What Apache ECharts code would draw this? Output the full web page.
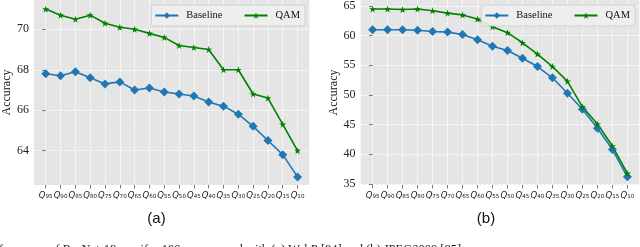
<!DOCTYPE html>
<html>
<head>
<meta charset="utf-8">
<script src="https://cdn.jsdelivr.net/npm/echarts@6/dist/echarts.min.js"></script>
<style>
html,body{margin:0;padding:0;background:#fff;}
#c{width:640px;height:247px;}
</style>
</head>
<body>
<div id="c"></div>
<script>
// Quality levels (x tick labels Q95 ... Q10)
const qualities = ['95','90','85','80','75','70','65','60','55','50','45','40','35','30','25','20','15','10'];
// (a) WebP
const baselineA = [67.8,67.7,67.9,67.6,67.3,67.4,67.0,67.1,66.9,66.8,66.7,66.4,66.2,65.8,65.2,64.5,63.8,62.7];
const qamA      = [71.0,70.7,70.5,70.7,70.3,70.1,70.0,69.8,69.6,69.2,69.1,69.0,68.0,68.0,66.8,66.6,65.3,64.0];
// (b) JPEG2000
const baselineB = [61.0,61.0,61.0,60.9,60.7,60.6,60.2,59.3,58.2,57.5,56.2,54.8,52.9,50.3,47.6,44.4,40.8,36.2];
const qamB      = [64.5,64.5,64.4,64.5,64.2,63.8,63.5,62.8,61.5,60.5,58.8,56.9,54.8,52.3,48.0,45.1,41.4,36.8];
const yTicksA = [64,66,68,70];
const yTicksB = [35,40,45,50,55,60,65];
const caption = 'formance of ResNet-18 on cifar-100 compressed with (a) WebP [84] and (b) JPEG2000 [85].';
</script>
<script>
const xIdx = qualities.map((_, i) => i);
const pairs = arr => arr.map((v, i) => [i, v]);
const STAR = 'path://M0,-1L0.2245,-0.309L0.951,-0.309L0.363,0.118L0.588,0.809L0,0.382L-0.588,0.809L-0.363,0.118L-0.951,-0.309L-0.2245,-0.309Z';
const serif = '"Liberation Serif","DejaVu Serif",serif';
const gridLine = {show: true, lineStyle: {color: '#ffffff', width: 0.8, type: [3, 1.3]}};

function xAxisCfg(gi) {
  return {
    type: 'value', gridIndex: gi, min: -0.8, max: qualities.length - 1 + 0.8,
    axisLine: {show: false},
    axisTick: {show: true, length: 3.5, lineStyle: {color: '#555', width: 0.8}, customValues: xIdx},
    splitLine: gridLine,
    axisLabel: {
      customValues: xIdx, margin: 5, showMinLabel: true, showMaxLabel: true, hideOverlap: false,
      formatter: v => '{q|Q}{s|' + qualities[Math.round(v)] + '}',
      rich: {
        q: {fontFamily: '"DejaVu Sans"', fontStyle: 'italic', fontSize: 8.5, color: '#222', lineHeight: 11},
        s: {fontFamily: '"DejaVu Sans"', fontSize: 5.6, color: '#222', lineHeight: 11, padding: [3, 0, 0, 0]}
      }
    }
  };
}
function yAxisCfg(gi, min, max, ticks) {
  return {
    type: 'value', gridIndex: gi, min: min, max: max,
    name: 'Accuracy', nameLocation: 'middle', nameGap: 20,
    nameTextStyle: {fontFamily: serif, fontSize: 12, color: '#111'},
    axisLine: {show: false},
    axisTick: {show: true, length: 3.5, lineStyle: {color: '#555', width: 0.8}, customValues: ticks},
    splitLine: gridLine,
    axisLabel: {customValues: ticks, fontFamily: serif, fontSize: 12, color: '#222', margin: 5, showMinLabel: true, showMaxLabel: true}
  };
}
function lineSeries(name, data, gi, color, symbol, size) {
  return {
    name: name, type: 'line', xAxisIndex: gi, yAxisIndex: gi, data: pairs(data),
    symbol: symbol, symbolSize: size, showAllSymbol: true,
    lineStyle: {color: color, width: 1.6}, itemStyle: {color: color},
    emphasis: {disabled: true}, animation: false
  };
}
const legendCommon = {
  top: 5, orient: 'horizontal', itemWidth: 23, itemHeight: 8, itemGap: 21,
  padding: [5, 5, 5, 3], backgroundColor: 'rgba(238,238,238,0.9)', borderColor: '#d0d0d0',
  borderWidth: 1, borderRadius: 3,
  textStyle: {fontFamily: serif, fontSize: 10.5, color: '#111', padding: [0, 0, 0, 3]},
  data: ['Baseline', 'QAM'], selectedMode: false
};
const chart = echarts.init(document.getElementById('c'), null, {renderer: 'canvas'});
chart.setOption({
  animation: false,
  backgroundColor: '#fff',
  grid: [
    {left: 30.6, right: 640 - 309.4, top: 0, bottom: 62, show: true, backgroundColor: '#e5e5e5', borderWidth: 0},
    {left: 360.6, right: 0.6, top: 0, bottom: 62, show: true, backgroundColor: '#e5e5e5', borderWidth: 0}
  ],
  xAxis: [xAxisCfg(0), xAxisCfg(1)],
  yAxis: [yAxisCfg(0, 62.3, 71.45, yTicksA), yAxisCfg(1, 34.83, 66.01, yTicksB)],
  legend: [
    Object.assign({}, legendCommon, {right: 640 - 305}),
    Object.assign({}, legendCommon, {right: 5})
  ],
  series: [
    lineSeries('Baseline', baselineA, 0, '#1f77b4', 'diamond', 9),
    lineSeries('QAM', qamA, 0, '#008000', STAR, 7),
    lineSeries('Baseline', baselineB, 1, '#1f77b4', 'diamond', 9),
    lineSeries('QAM', qamB, 1, '#008000', STAR, 7)
  ],
  graphic: [
    {type: 'text', x: 156.5, y: 218.5, style: {text: '(a)', fontFamily: '"Liberation Sans",Arial,sans-serif', fontSize: 15, fill: '#111', align: 'center', verticalAlign: 'middle'}},
    {type: 'text', x: 486, y: 218.5, style: {text: '(b)', fontFamily: '"Liberation Sans",Arial,sans-serif', fontSize: 15, fill: '#111', align: 'center', verticalAlign: 'middle'}},
    {type: 'text', x: -1, y: 243, style: {text: caption, fontFamily: serif, fontSize: 12.5, fill: '#222', align: 'left', verticalAlign: 'top'}}
  ]
});
</script>
</body>
</html>
